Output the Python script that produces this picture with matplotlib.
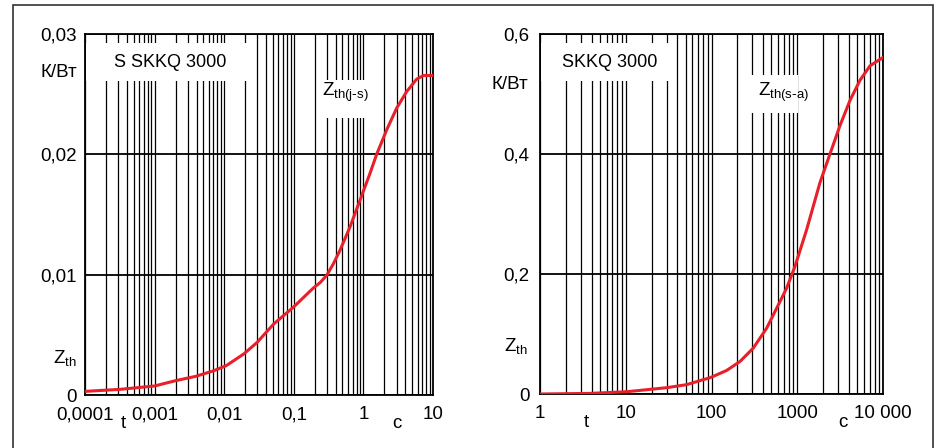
import matplotlib
matplotlib.use("Agg")
import matplotlib.pyplot as plt
from matplotlib.patches import Rectangle
from matplotlib.ticker import LogLocator, NullFormatter, FixedLocator, FixedFormatter

plt.rcParams['font.family'] = ['Liberation Sans', 'DejaVu Sans']

# ---- data: left panel, Zth(j-s) ----
t_js = [1e-4, 3.2e-4, 1e-3, 2.0e-3, 3.9e-3, 7.1e-3, 0.0107, 0.0191, 0.0297, 0.0514,
        0.098, 0.19, 0.24, 0.297, 0.37, 0.461, 0.642, 0.894, 1.244, 1.55, 2.16, 3.0,
        4.19, 5.83, 7.27, 10]
z_js = [0.0003, 0.00047, 0.00075, 0.00119, 0.00155, 0.00202, 0.00244, 0.00341,
        0.00437, 0.0059, 0.00728, 0.00888, 0.00935, 0.00994, 0.0109, 0.01203,
        0.01397, 0.01619, 0.01842, 0.0200, 0.02203, 0.02383, 0.02522, 0.02625,
        0.02655, 0.02655]

# ---- data: right panel, Zth(s-a) ----
t_sa = [1, 3.8, 10.3, 30, 51, 98, 150, 215, 307, 440, 629, 752, 941, 1289, 1842,
        2409, 3152, 4124, 5395, 7058, 10000]
z_sa = [0, 0.001, 0.0038, 0.0105, 0.0155, 0.0276, 0.0392, 0.0542, 0.0765, 0.1097,
        0.154, 0.1765, 0.2127, 0.2743, 0.3525, 0.40, 0.4475, 0.4894, 0.523, 0.547,
        0.561]

# ---- tick labels ----
xt_left = [1e-4, 1e-3, 1e-2, 1e-1, 1, 10]
xl_left = ["0,0001", "0,001", "0,01", "0,1", "1", "10"]
yt_left = [0, 0.01, 0.02, 0.03]
yl_left = ["0", "0,01", "0,02", "0,03"]

xt_right = [1, 10, 100, 1000, 10000]
xl_right = ["1", "10", "100", "1000", "10 000"]
yt_right = [0, 0.2, 0.4, 0.6]
yl_right = ["0", "0,2", "0,4", "0,6"]

W, H = 938, 448
fig = plt.figure(figsize=(W / 100, H / 100), dpi=100)

RED = '#e8202a'
FS = 13.5


def make_axes(px_left, px_right, px_top, px_bottom):
    return fig.add_axes([px_left / W, 1 - px_bottom / H,
                         (px_right - px_left) / W, (px_bottom - px_top) / H])


def style(ax, xlim, ylim, xt, xl, yt, yl, xpad, ypad):
    ax.set_xscale('log')
    ax.set_xlim(*xlim)
    ax.set_ylim(*ylim)
    ax.xaxis.set_major_locator(FixedLocator(xt))
    ax.xaxis.set_major_formatter(FixedFormatter(xl))
    ax.xaxis.set_minor_locator(LogLocator(base=10, subs=range(2, 10), numticks=50))
    ax.xaxis.set_minor_formatter(NullFormatter())
    ax.yaxis.set_major_locator(FixedLocator(yt))
    ax.yaxis.set_major_formatter(FixedFormatter(yl))
    ax.tick_params(axis='both', which='both', length=0, labelsize=FS)
    ax.tick_params(axis='x', pad=xpad)
    ax.tick_params(axis='y', pad=ypad)
    ax.set_axisbelow(True)
    ax.grid(True, axis='x', which='both', color='#000000', lw=0.9)
    ax.grid(True, axis='y', which='major', color='#000000', lw=1.3)
    for s in ax.spines.values():
        s.set_linewidth(1.3)
        s.set_color('#000000')


def white_box(ax, x0, y0, x1, y1):
    ax.add_patch(Rectangle((x0, y0), x1 - x0, y1 - y0, transform=ax.transAxes,
                           facecolor='white', edgecolor='none', zorder=1))


# ---- left panel ----
ax1 = make_axes(85, 433, 34, 395)
style(ax1, (1e-4, 10), (0, 0.03), xt_left, xl_left, yt_left, yl_left, 8, 6)
white_box(ax1, 0.003, 0.870, 0.474, 0.975)
white_box(ax1, 0.675, 0.767, 0.810, 0.873)
ax1.plot(t_js, z_js, color=RED, lw=2.2, zorder=3, solid_capstyle='round',
         solid_joinstyle='round')
ax1.text(0.244, 0.922, "S SKKQ 3000", transform=ax1.transAxes, ha='center',
         va='center', fontsize=13, zorder=4)
ax1.text(0.681, 0.837, r"$\mathregular{Z_{th(j\text{-}s)}}$", transform=ax1.transAxes,
         ha='left', va='center', fontsize=13.5, zorder=4)
ax1.text(-0.023, 0.892, "К/Вт", transform=ax1.transAxes, ha='right', va='center',
         fontsize=FS)
ax1.text(-0.023, 0.102, r"$\mathregular{Z_{th}}$", transform=ax1.transAxes,
         ha='right', va='center', fontsize=FS)
ax1.text(0.109, -0.080, "t", transform=ax1.transAxes, ha='center', va='center',
         fontsize=FS)
ax1.text(0.897, -0.080, "c", transform=ax1.transAxes, ha='center', va='center',
         fontsize=FS)

# ---- right panel ----
ax2 = make_axes(540, 883, 34, 394)
style(ax2, (1, 10000), (0, 0.6), xt_right, xl_right, yt_right, yl_right, 8, 7.5)
white_box(ax2, 0.003, 0.870, 0.379, 0.975)
white_box(ax2, 0.615, 0.781, 0.752, 0.886)
ax2.plot(t_sa, z_sa, color=RED, lw=2.2, zorder=3, solid_capstyle='round',
         solid_joinstyle='round')
ax2.text(0.204, 0.922, "SKKQ 3000", transform=ax2.transAxes, ha='center',
         va='center', fontsize=13, zorder=4)
ax2.text(0.636, 0.837, r"$\mathregular{Z_{th(s\text{-}a)}}$", transform=ax2.transAxes,
         ha='left', va='center', fontsize=13.5, zorder=4)
ax2.text(-0.035, 0.860, "К/Вт", transform=ax2.transAxes, ha='right', va='center',
         fontsize=FS)
ax2.text(-0.035, 0.133, r"$\mathregular{Z_{th}}$", transform=ax2.transAxes,
         ha='right', va='center', fontsize=FS)
ax2.text(0.134, -0.080, "t", transform=ax2.transAxes, ha='center', va='center',
         fontsize=FS)
ax2.text(0.883, -0.080, "c", transform=ax2.transAxes, ha='center', va='center',
         fontsize=FS)

# ---- outer frame ----
fig.patches.append(Rectangle((12.5 / W, -0.05), (932.7 - 12.5) / W, 1.05 - 5.5 / H,
                             transform=fig.transFigure, fill=False,
                             edgecolor='#333333', lw=1.2, clip_on=False))

fig.savefig("out.png", dpi=100)
